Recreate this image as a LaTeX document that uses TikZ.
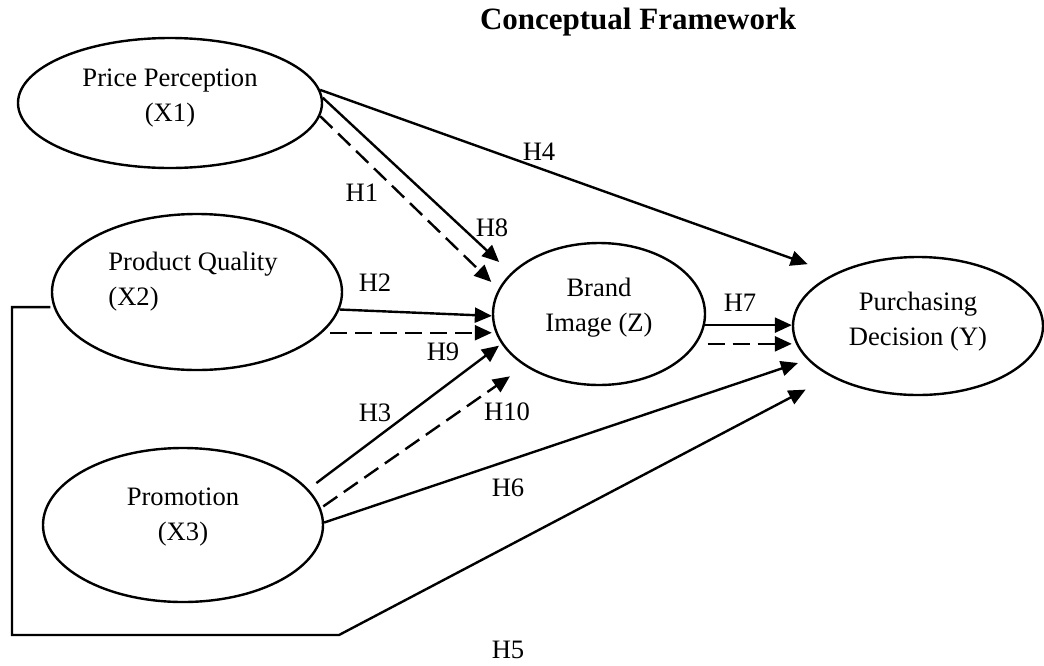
\documentclass[tikz,border=0pt]{standalone}
\usepackage{fontspec}
\setmainfont{Liberation Serif}
\usepackage{tikz}
\usetikzlibrary{arrows.meta, shapes.geometric}
\tikzstyle{latentVar} = [draw, ellipse, line width=1.2pt, inner sep=0pt]
\tikzstyle{varText} = [font=\fontsize{13.3}{17.5}\selectfont, align=center]
\tikzstyle{hypArrow} = [line width=1.2pt, -{Triangle[length=8.5pt, width=7.5pt]}]
\tikzstyle{hypDashed} = [hypArrow, dash pattern=on 8.5pt off 4pt]
\tikzstyle{hypLabel} = [font=\fontsize{13.3}{16}\selectfont]

\begin{document}
\begin{tikzpicture}[x=0.5pt, y=-0.5pt]
  \useasboundingbox (0,0) rectangle (1044,665);
  \node[font=\bfseries\fontsize{15.5}{18}\selectfont] (title) at (638,22) {Conceptual Framework};

  % constructs
  \node[latentVar, minimum width=152pt, minimum height=65pt] (pp) at (170,103) {};
  \node[latentVar, minimum width=145pt, minimum height=78pt] (pq) at (197,292) {};
  \node[latentVar, minimum width=140pt, minimum height=77pt] (pr) at (183,525) {};
  \node[latentVar, minimum width=106pt, minimum height=71pt] (bi) at (599,314) {};
  \node[latentVar, minimum width=125pt, minimum height=69pt] (pd) at (918,326) {};

  \node[varText] (ppText) at (170,98.5) {Price Perception\\(X1)};
  \node[varText, align=left] (pqText) at (193,281.5) {Product Quality\\(X2)};
  \node[varText] (prText) at (183,517.5) {Promotion\\(X3)};
  \node[varText] (biText) at (599,308) {Brand\\Image (Z)};
  \node[varText] (pdText) at (918,322) {Purchasing\\Decision (Y)};

  \coordinate (h5corner) at (12,635); % bottom left corner of H5
  \coordinate (h5bend) at (339,635);

  % direct effects
  \draw[hypArrow, shorten >=14pt] (pp.5) -- (pd.148);
  \draw[hypArrow, shorten >=8pt] (pp.2) -- (bi.155);
  \draw[hypArrow] (pq.353) -- (bi.181);
  \draw[hypArrow, shorten <=5pt, shorten >=1.5pt] (pr.16) -- (bi.197);
  \draw[hypArrow, shorten >=5pt] (pr.1) -- (pd.197);
  \draw[hypArrow, shorten <=1.5pt, shorten >=14pt] (pq.186) -| (h5corner) -- (h5bend) -- (pd.210);
  \draw[hypArrow] (bi.354) -- (pd.west |- bi.354);

  % mediated effects (dashed)
  \draw[hypDashed, shorten >=5pt] (pp.355) -- (bi.166);
  \draw[hypDashed, shorten <=4pt] (pq.342) -- (bi.west |- pq.342);
  \draw[hypDashed, shorten <=1.5pt, shorten >=9pt] (pr.7) -- (bi.215);
  \draw[hypDashed, shorten <=5.5pt] (bi.343) -- (pd.west |- bi.343);

  % labels
  \node[hypLabel] (lH1) at (362,193) {H1};
  \node[hypLabel] (lH2) at (375,283) {H2};
  \node[hypLabel] (lH3) at (375,413) {H3};
  \node[hypLabel] (lH4) at (539,152) {H4};
  \node[hypLabel] (lH5) at (508,650) {H5};
  \node[hypLabel] (lH6) at (508,488) {H6};
  \node[hypLabel] (lH7) at (740,303) {H7};
  \node[hypLabel] (lH8) at (492,228) {H8};
  \node[hypLabel] (lH9) at (443,352) {H9};
  \node[hypLabel] (lH10) at (507,412) {H10};
\end{tikzpicture}
\end{document}
